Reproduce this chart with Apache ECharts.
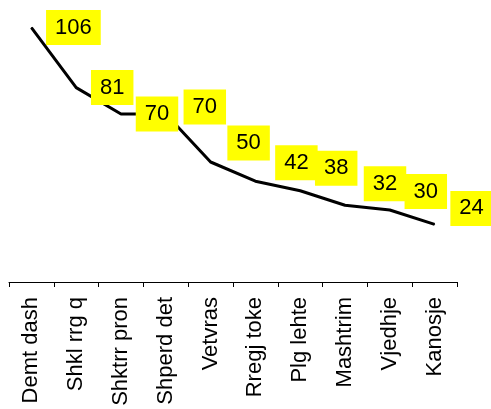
<!DOCTYPE html>
<html>
<head>
<meta charset="utf-8">
<script src="https://cdn.jsdelivr.net/npm/echarts@6/dist/echarts.min.js"></script>
<style>html,body{margin:0;padding:0;background:#fff}#c{width:491px;height:409px}</style>
</head>
<body>
<div id="c"></div>
<script>
const categories = ['Demt dash','Shkl rrg q','Shktrr pron','Shperd det','Vetvras','Rregj toke','Plg lehte','Mashtrim','Vjedhje','Kanosje'];
const values = [106, 81, 70, 70, 50, 42, 38, 32, 30, 24];
// label nudges (style only, pixels)
const labelNudge = [[42,0],[36,0],[36,0],[39,-7],[38,-19],[41,-18.5],[36,-22.5],[40,-21.5],[36,-18.5],[37,-16]];

const FONT = '"Liberation Sans", Arial, sans-serif';
const chart = echarts.init(document.getElementById('c'), null, {renderer:'canvas'});
chart.setOption({
  animation: false,
  backgroundColor: '#ffffff',
  grid: {left: 9, right: 34, top: 18, bottom: 127, containLabel: false},
  xAxis: {
    type: 'category',
    data: categories,
    boundaryGap: true,
    axisLine: {show: true, lineStyle: {color: '#000', width: 1}},
    axisTick: {show: true, length: 5, lineStyle: {color: '#000'}},
    axisLabel: {rotate: 90, margin: 15, color: '#000', fontSize: 22, fontFamily: FONT, interval: 0}
  },
  yAxis: {
    type: 'value', min: 0, max: 110,
    show: false,
    splitLine: {show: false}
  },
  series: [{
    type: 'line',
    data: values.map((v, i) => ({
      value: v,
      label: {offset: labelNudge[i]}
    })),
    symbol: 'circle',
    symbolSize: 1,
    itemStyle: {color: '#000'},
    lineStyle: {color: '#000', width: 3},
    label: {
      show: true,
      position: 'inside',
      color: '#000',
      fontSize: 22,
      fontFamily: FONT,
      lineHeight: 23,
      backgroundColor: '#ffff00',
      padding: [6, 9, 6, 9]
    }
  }]
});
</script>
</body>
</html>
